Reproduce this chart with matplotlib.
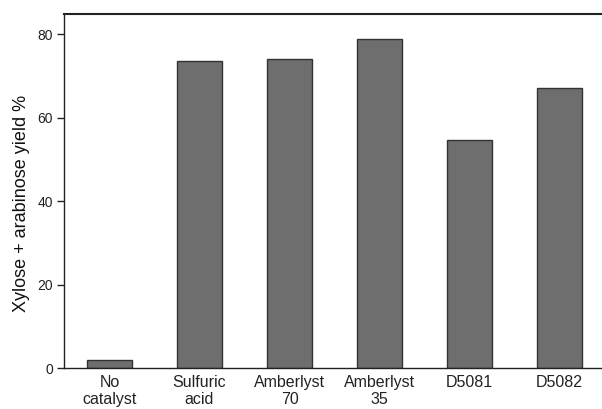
import matplotlib
matplotlib.use("Agg")
import matplotlib.pyplot as plt

categories = ["No\ncatalyst", "Sulfuric\nacid", "Amberlyst\n70", "Amberlyst\n35", "D5081", "D5082"]
values = [1.9, 73.7, 74.1, 78.8, 54.7, 67.2]
yticks = [0, 20, 40, 60, 80]

plt.rcParams['font.family'] = ['Liberation Sans', 'DejaVu Sans']

fig = plt.figure(figsize=(6.02, 4.09), dpi=100)
ax = fig.add_axes([64/602, 41/409, 1 - 64/602, (368 - 13.5)/409])

x = range(len(categories))
ax.bar(x, values, width=0.5, color="#6e6e6e", edgecolor="#333333", linewidth=1.0)

ax.set_xlim(-0.505, 5.47)
ax.set_ylim(0, 85)
ax.set_yticks(yticks)
ax.set_xticks(list(x))
ax.set_xticklabels(categories, fontsize=11.5, linespacing=1.2)
ax.tick_params(axis='x', length=0, pad=5, colors="#222222")
ax.tick_params(axis='y', length=5, width=1, labelsize=10, pad=3, colors="#222222")
ax.set_ylabel("Xylose + arabinose yield %", fontsize=13, color="#111111")
ax.yaxis.set_label_coords(-0.063, 0.465)

ax.spines['right'].set_visible(False)
ax.spines['top'].set_linewidth(1.5)
ax.spines['left'].set_linewidth(1.0)
ax.spines['bottom'].set_linewidth(1.0)
for s in ax.spines.values():
    s.set_color("#222222")

fig.savefig("out.png", dpi=100)
